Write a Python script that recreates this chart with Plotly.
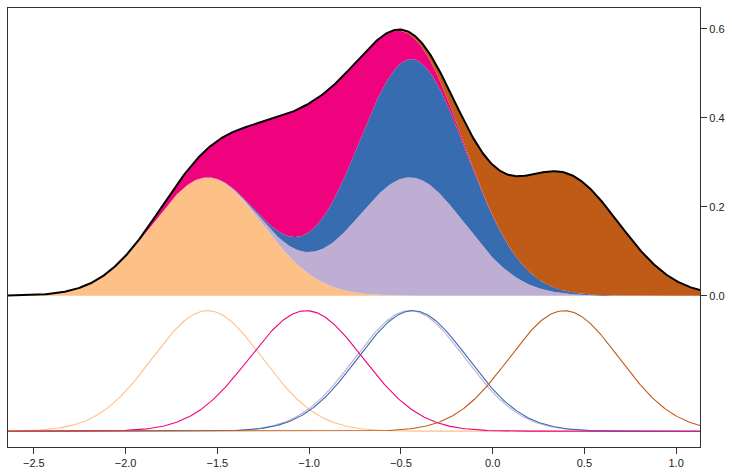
import numpy as np
import plotly.graph_objects as go

# Mixture components
comp_names = ["c1", "c2", "c3", "c4", "c5"]
means = [-1.554, -0.451, -0.435, -1.016, 0.39]
sds = [0.30, 0.30, 0.30, 0.31, 0.30]
weights = [0.2, 0.2, 0.2, 0.225, 0.2]
colors = ["#FDC086", "#BEAED4", "#386CB0", "#F0027F", "#BF5B17"]

x_tickvals = [-2.5, -2.0, -1.5, -1.0, -0.5, 0.0, 0.5, 1.0]
x_ticktext = ["\u22122.5", "\u22122.0", "\u22121.5", "\u22121.0", "\u22120.5", "0.0", "0.5", "1.0"]
y_tickvals = [0.0, 0.2, 0.4, 0.6]
y_ticktext = ["0.0", "0.2", "0.4", "0.6"]

x_range = [-2.641, 1.130]
y_range = [-0.340, 0.647]
lower_base = -0.3045
lower_height = 0.271

x = np.linspace(x_range[0], x_range[1], 600)


def comp_density(i):
    m, s, w = means[i], sds[i], weights[i]
    return w * np.exp(-0.5 * ((x - m) / s) ** 2) / (s * np.sqrt(2 * np.pi))


dens = [comp_density(i) for i in range(len(means))]

fig = go.Figure()

cum = np.zeros_like(x)
for i, d in enumerate(dens):
    cum = cum + d
    fig.add_trace(go.Scatter(
        x=x, y=cum, mode="lines", line=dict(width=0, color=colors[i]),
        fill="tozeroy" if i == 0 else "tonexty", fillcolor=colors[i],
        hoverinfo="skip", showlegend=False))

fig.add_trace(go.Scatter(x=x, y=cum, mode="lines",
                         line=dict(color="black", width=2),
                         hoverinfo="skip", showlegend=False))

for i, d in enumerate(dens):
    fig.add_trace(go.Scatter(
        x=x, y=lower_base + d / d.max() * lower_height, mode="lines",
        line=dict(color=colors[i], width=1.1),
        hoverinfo="skip", showlegend=False))

axis_font = dict(family="Liberation Sans, Arial, sans-serif", size=11, color="#222")

fig.update_layout(
    width=732, height=476,
    margin=dict(l=7, r=31, t=8, b=27),
    paper_bgcolor="white", plot_bgcolor="white",
    showlegend=False,
    xaxis=dict(range=x_range, tickmode="array", tickvals=x_tickvals, ticktext=x_ticktext,
               ticks="outside", ticklen=6, tickcolor="#333", tickwidth=1,
               showline=True, mirror=True, linecolor="#333", linewidth=1.2,
               showgrid=False, zeroline=False, tickfont=axis_font),
    yaxis=dict(range=y_range, side="right", tickmode="array", tickvals=y_tickvals,
               ticktext=y_ticktext, ticks="outside", ticklen=6, tickcolor="#333",
               tickwidth=1, showline=True, mirror=True, linecolor="#333", linewidth=1.2,
               showgrid=False, zeroline=False, tickfont=axis_font),
)

fig.write_html("out.html")
